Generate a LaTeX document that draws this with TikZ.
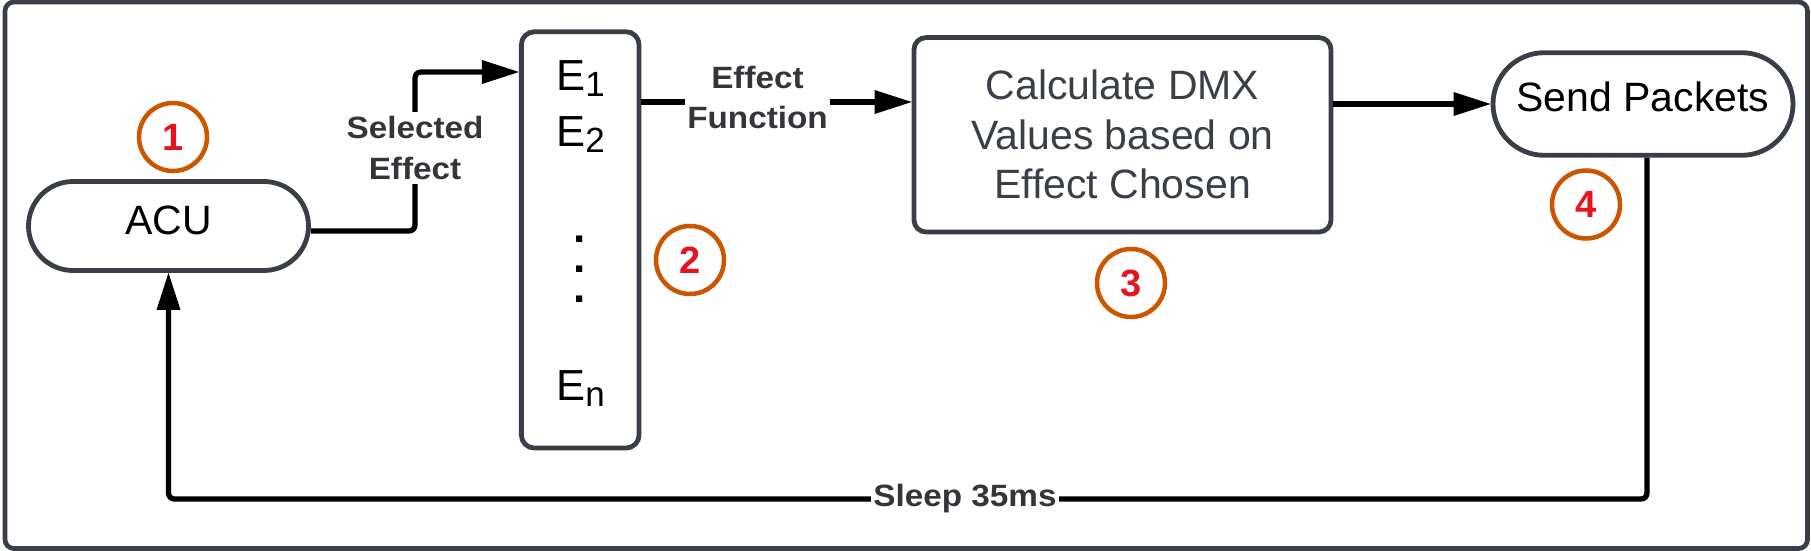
\documentclass[tikz,border=0pt]{standalone}
\usepackage{fontspec}
\setmainfont{Liberation Sans}
\newfontfamily\lblfont[FakeStretch=1.08]{Liberation Sans Bold}
\newfontfamily\numfont{Liberation Sans Bold}
\usetikzlibrary{arrows.meta,shapes.misc}
\definecolor{boxgray}{RGB}{58,63,71}
\definecolor{lblgray}{RGB}{51,53,58}
\definecolor{ringorange}{RGB}{204,85,0}
\definecolor{numred}{RGB}{230,20,30}
\begin{document}
\begin{tikzpicture}[x=1pt,y=-1pt,
  frame/.style={draw=boxgray,line width=4.7pt,rounded corners=9pt},
  stadium/.style={draw=boxgray,line width=4.8pt,rounded rectangle,fill=white,inner sep=0pt,text=black,font=\fontsize{41}{48}\selectfont},
  boxnode/.style={draw=boxgray,line width=4.8pt,rounded corners=13pt,inner sep=0pt},
  conn/.style={draw=black,line width=5.3pt,rounded corners=6pt},
  arr/.style={-{Triangle[length=37pt,width=24pt,line width=0pt]}},
  lbl/.style={fill=white,text=lblgray,font=\lblfont\fontsize{30.8}{40.5}\selectfont,align=center,inner xsep=2pt,inner ysep=4pt},
  ring/.style={circle,draw=ringorange,line width=4.5pt,minimum size=68pt,inner sep=0pt,text=numred,font=\numfont\fontsize{38}{38}\selectfont},
  etext/.style={anchor=base,text=black,inner sep=0pt,font=\fontsize{43.5}{43.5}\selectfont},
  dotnode/.style={text=black,inner sep=0pt,align=center,font=\numfont\fontsize{44}{29.75}\selectfont}]
\fill[white] (0,0) rectangle (1811,551);
\useasboundingbox (0,0) rectangle (1811,551);
\draw[frame] (5,2) rectangle (1807.5,548.5);

% main shapes
\node[stadium,minimum width=280pt,minimum height=89pt,text depth=12pt] (ACU) at (168.5,226) {ACU};
\node[boxnode,minimum width=117.7pt,minimum height=416.3pt] (E) at (580.2,239.9) {};
\node[boxnode,rounded corners=12pt,minimum width=417pt,minimum height=194.4pt,align=center,text=boxgray,font=\fontsize{41}{49.5}\selectfont] (Calc) at (1122.5,134.8) {Calculate DMX\\Values based on\\Effect Chosen};
\node[stadium,minimum width=300pt,minimum height=102.6pt,text depth=15pt] (Send) at (1643,104) {Send Packets};

% effect list
\node[etext] (e1) at (580.5,90.7) {E\raisebox{-6pt}{\fontsize{35}{35}\selectfont 1}};
\node[etext] (e2) at (580.5,146) {E\raisebox{-6pt}{\fontsize{35}{35}\selectfont 2}};
\node[dotnode] (dots) at (580,269) {.\\.\\.};
\node[etext] (en) at (580.5,400.5) {E\raisebox{-6pt}{\fontsize{35}{35}\selectfont n}};

% numbered rings
\node[ring] (n1) at (173,137) {1};
\node[ring] (n2) at (690,260) {2};
\node[ring] (n3) at (1131,283) {3};
\node[ring] (n4) at (1586,204.5) {4};

% helper coordinates
\coordinate (selx) at (415,72);
\coordinate (efy) at (0,102);
\coordinate (loopy) at (0,499);

% connectors
\draw[conn,arr] ([yshift=-5pt]ACU.east) -| (selx) -- (E.west |- selx);
\node[lbl] (selLbl) at (415,148) {Selected\\Effect};
\draw[conn,arr] (E.east |- efy) -- (Calc.west |- efy);
\node[lbl] (efLbl) at (757.5,97.5) {Effect\\Function};
\draw[conn,arr] (Calc.east |- Send.west) -- (Send.west);
\draw[conn,arr] ([xshift=4pt]Send.south) -- ([xshift=4pt]Send.south |- loopy) -| (ACU.south);
\node[lbl,anchor=base,inner ysep=2pt] (sleepLbl) at (965,506) {Sleep 35ms};
\end{tikzpicture}
\end{document}
